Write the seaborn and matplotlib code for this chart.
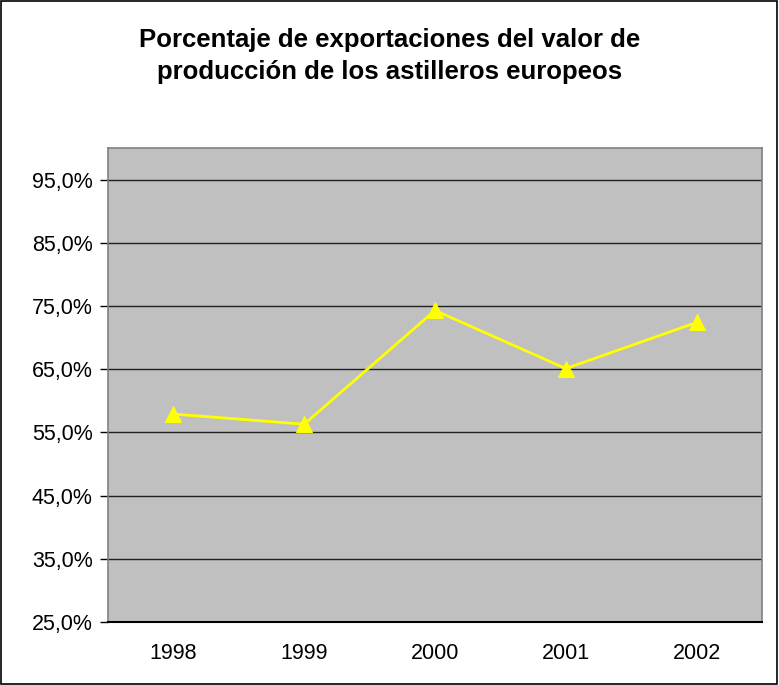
import matplotlib
matplotlib.use("Agg")
import matplotlib.pyplot as plt
import seaborn as sns
import pandas as pd
from matplotlib.patches import Rectangle

# datos
years = ["1998", "1999", "2000", "2001", "2002"]
export_pct = [57.9, 56.3, 74.3, 65.1, 72.4]
y_ticks = [25, 35, 45, 55, 65, 75, 85, 95]
y_labels = ["25,0%", "35,0%", "45,0%", "55,0%", "65,0%", "75,0%", "85,0%", "95,0%"]

df = pd.DataFrame({"year": years, "pct": export_pct})

sns.set_style("white")
plt.rcParams["font.family"] = ["Liberation Sans", "DejaVu Sans"]
plt.rcParams["text.color"] = "black"
plt.rcParams["xtick.color"] = "black"
plt.rcParams["ytick.color"] = "black"

fig = plt.figure(figsize=(7.79, 6.85), dpi=100)
ax = fig.add_axes([108 / 779, 1 - 622 / 685, (762 - 108) / 779, (622 - 148) / 685])
ax.set_facecolor("#C0C0C0")

sns.lineplot(data=df, x="year", y="pct", ax=ax, color="#FFFF00", linewidth=2,
             marker="^", markersize=11, markeredgecolor="#FFFF00", zorder=3)

ax.set_xlim(-0.5, len(years) - 0.5)
ax.set_ylim(25, 100)
ax.set_yticks(y_ticks)
ax.set_yticklabels(y_labels, fontsize=15.5)
ax.set_xticks(range(len(years)))
ax.set_xticklabels(years, fontsize=15.5)
ax.set_xticks([i - 0.5 for i in range(len(years) + 1)], minor=True)
ax.tick_params(axis="x", which="major", length=0, pad=15)
ax.tick_params(axis="x", which="minor", length=6, width=1, color="black", direction="out")
ax.tick_params(axis="y", length=6, width=1, color="black", direction="out", left=True, pad=5)
ax.grid(axis="y", color="#202020", linewidth=1)
ax.set_axisbelow(True)
ax.set_xlabel("")
ax.set_ylabel("")

for side in ["top", "right", "left"]:
    ax.spines[side].set_color("#808080")
    ax.spines[side].set_linewidth(1.2)
ax.spines["bottom"].set_color("black")
ax.spines["bottom"].set_linewidth(1.5)

fig.text(0.5, 1 - 40 / 685, "Porcentaje de exportaciones del valor de", ha="center", va="center",
         fontsize=18.5, fontweight="bold")
fig.text(0.5, 1 - 72 / 685, "producción de los astilleros europeos", ha="center", va="center",
         fontsize=18.5, fontweight="bold")

# borde del área del gráfico
fig.patches.append(Rectangle((0.001, 0.002), 0.997, 0.996, transform=fig.transFigure,
                             fill=False, edgecolor="black", linewidth=1.2))

fig.savefig("out.png", dpi=100, facecolor="white")
